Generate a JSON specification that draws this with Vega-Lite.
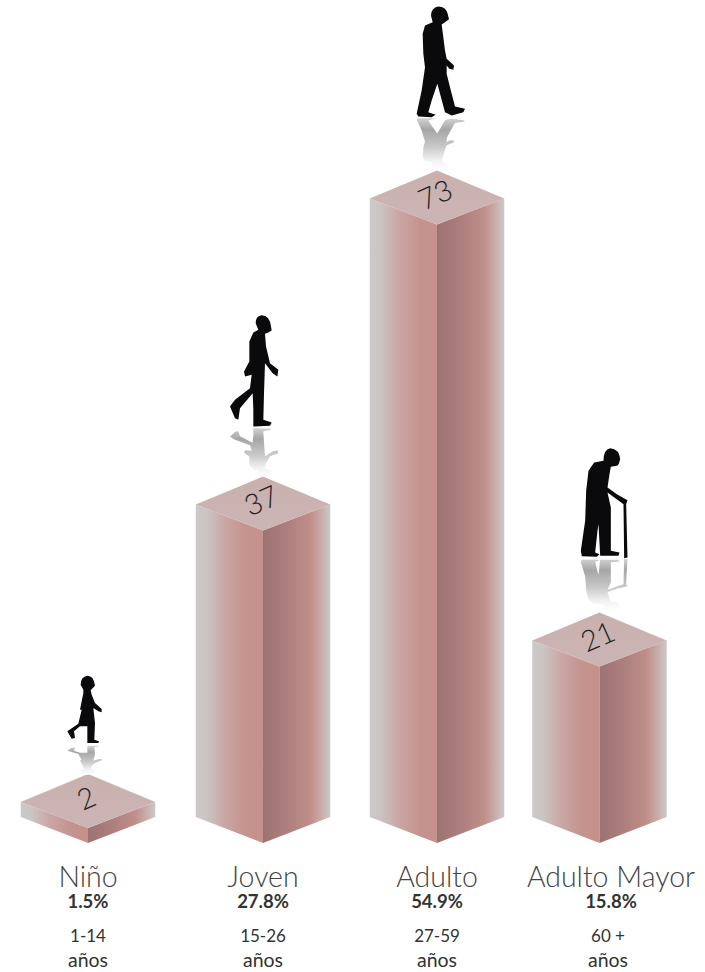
{"$schema":"https://vega.github.io/schema/vega-lite/v6.json","width":705,"height":972,"padding":0,"autosize":"none","background":"white","config":{"view":{"stroke":null}},
"resolve":{"scale":{"shape":"independent"}},
"data":{"values":[{"grupo":"Niño","valor":2,"pct":"1.5%","edad":"1-14"},{"grupo":"Joven","valor":37,"pct":"27.8%","edad":"15-26"},{"grupo":"Adulto","valor":73,"pct":"54.9%","edad":"27-59"},{"grupo":"Adulto Mayor","valor":21,"pct":"15.8%","edad":"60 +"}]},
"transform":[{"calculate":"{'Niño':88,'Joven':263,'Adulto':437,'Adulto Mayor':599.5}[datum.grupo]","as":"cx"},{"calculate":"{'Niño':88,'Joven':263,'Adulto':437,'Adulto Mayor':611}[datum.grupo]","as":"lx"},{"calculate":"{'Niño':88,'Joven':263,'Adulto':437,'Adulto Mayor':608}[datum.grupo]","as":"ax"},{"calculate":"datum.valor+6.35","as":"apex"},{"calculate":"datum.valor+3.06","as":"mid"}],
"encoding":{},
"layer":[
{"transform":[{"calculate":"[-1,0]","as":"l"},{"flatten":["l"]},{"calculate":"datum.cx+datum.l*67.25","as":"px"},{"calculate":"datum.valor-datum.l*3.06","as":"up"},{"calculate":"0.235-datum.l*3.06","as":"down"}],
"mark":{"type":"area","opacity":1,"color":{"gradient":"linear","x1":0,"x2":1,"y1":0,"y2":0,"stops":[{"offset":0,"color":"#ccc9c9"},{"offset":0.15,"color":"#cbc5c4"},{"offset":0.45,"color":"#c9a5a2"},{"offset":0.75,"color":"#c5938e"},{"offset":1,"color":"#c4918c"}]}},
"encoding":{"x":{"field":"px","type":"quantitative","scale":{"domain":[0,705],"nice":false,"zero":false},"axis":null},"y":{"field":"up","type":"quantitative","scale":{"domain":[-14.94,99.41],"nice":false,"zero":false},"axis":null},"y2":{"field":"down"},"detail":{"field":"grupo"}}},
{"transform":[{"calculate":"[0,1]","as":"l"},{"flatten":["l"]},{"calculate":"datum.cx+datum.l*67.25","as":"px"},{"calculate":"datum.valor+datum.l*3.06","as":"up"},{"calculate":"0.235+datum.l*3.06","as":"down"}],
"mark":{"type":"area","opacity":1,"color":{"gradient":"linear","x1":0,"x2":1,"y1":0,"y2":0,"stops":[{"offset":0,"color":"#9c7272"},{"offset":0.35,"color":"#ac7f7d"},{"offset":0.7,"color":"#c08e89"},{"offset":0.85,"color":"#c8aaa7"},{"offset":1,"color":"#ccc9c9"}]}},
"encoding":{"x":{"field":"px","type":"quantitative","axis":null},"y":{"field":"up","type":"quantitative","axis":null},"y2":{"field":"down"},"detail":{"field":"grupo"}}},
{"transform":[{"calculate":"[-1,0,1]","as":"l"},{"flatten":["l"]},{"calculate":"datum.cx+datum.l*67.25","as":"px"},{"calculate":"datum.mid+(1-abs(datum.l))*3.29","as":"up"},{"calculate":"datum.mid-(1-abs(datum.l))*3.06","as":"down"}],
"mark":{"type":"area","opacity":1,"color":{"gradient":"linear","x1":0,"x2":0,"y1":0,"y2":1,"stops":[{"offset":0,"color":"#c9b0af"},{"offset":1,"color":"#cbb5b4"}]}},
"encoding":{"x":{"field":"px","type":"quantitative","axis":null},"y":{"field":"up","type":"quantitative","axis":null},"y2":{"field":"down"},"detail":{"field":"grupo"}}},
{"mark":{"type":"point","filled":true,"opacity":1,"strokeWidth":0,"size":0.4444,"fill":{"gradient":"linear","x1":0,"x2":0,"y1":0,"y2":1,"stops":[{"offset":0,"color":"#d2d2d2"},{"offset":0.22,"color":"#a6a6a6"},{"offset":0.55,"color":"#c8c8c8"},{"offset":0.82,"color":"#f2f2f2"},{"offset":1,"color":"#ffffff"}]}},
"encoding":{"x":{"field":"cx","type":"quantitative","axis":null},"y":{"field":"apex","type":"quantitative","axis":null},"shape":{"field":"grupo","type":"nominal","legend":null,"scale":{"domain":["Niño","Joven","Adulto","Adulto Mayor"],"range":[
"M-2,2L14,-1L21,-11L8,-17L11,-23L21,-33L41,-41L41,-45L31,-44L16,-40L21,-59L19,-81L33,-83L31,-85L-2,-85L-2,-64L-24,-64L-42,-70L-39,-79L-49,-79L-62,-70L-29,-60L-19,-42L-24,-42L-14,-20L-14,-16L-22,-10L-19,-1Z",
"M-4,1L21,-2L24,-13L26,-18L16,-21L6,-23L9,-39L21,-61L46,-70L43,-79L29,-75L6,-61L3,-101L1,-136L26,-140L21,-144L-29,-145L-29,-123L-31,-101L-69,-121L-74,-136L-84,-134L-99,-119L-84,-110L-39,-94L-34,-77L-54,-79L-57,-72L-41,-59L-41,-33L-29,-21L-14,-17L-22,-9L-22,-2Z",
"M4,-2L24,-5L32,-12L36,-20L24,-24L14,-27L19,-45L24,-64L29,-76L51,-85L49,-91L37,-90L29,-85L29,-97L39,-116L54,-143L84,-146L79,-151L44,-156L24,-151L1,-111L-16,-134L-26,-151L-4,-155L-16,-157L-56,-157L-61,-153L-46,-120L-36,-87L-41,-69L-43,-40L-36,-29L-13,-24L-18,-15L-13,-7Z",
"M32,-6L57,-10L62,-21L52,-31L34,-32L30,-43L24,-61L52,-71L84,-79L80,-85L84,-160L74,-161L72,-85L24,-68L34,-90L34,-118L34,-151L60,-153L57,-158L2,-158L-3,-113L-6,-122L-13,-153L0,-155L-8,-159L-53,-158L-56,-151L-43,-108L-40,-66L-33,-38L-16,-26L12,-24L14,-12Z"
]}}}},
{"mark":{"type":"point","filled":true,"opacity":1,"strokeWidth":0,"size":0.4444,"color":"#0a0a0c"},
"encoding":{"x":{"field":"cx","type":"quantitative","axis":null},"y":{"field":"apex","type":"quantitative","axis":null},"shape":{"field":"grupo","type":"nominal","legend":null,"scale":{"domain":["Niño","Joven","Adulto","Adulto Mayor"],"range":[
"M-2,-295Q18,-295 21,-265L8,-251L11,-238L21,-213L41,-195L41,-185L31,-188L16,-198L21,-153L19,-103L33,-98L31,-93L-2,-93L-2,-143L-24,-143L-42,-128L-39,-108L-49,-106L-62,-128L-29,-151L-19,-193L-24,-193L-14,-243L-14,-253L-22,-268Q-22,-292 -2,-295Z",
"M-4,-484Q20,-484 24,-450L26,-438L16,-432L6,-428L9,-390L21,-340L46,-320L43,-300L29,-310L6,-340L3,-250L1,-170L26,-162L21,-152L-29,-150L-29,-200L-31,-250L-69,-205L-74,-170L-84,-175L-99,-210L-84,-230L-39,-265L-34,-305L-54,-300L-57,-315L-41,-345L-41,-405L-29,-432L-14,-440L-22,-460Q-22,-482 -4,-484Z",
"M4,-492Q26,-492 32,-470L36,-454L24,-445L14,-438L19,-400L24,-360L29,-335L51,-315L49,-302L37,-305L29,-315L29,-290L39,-250L54,-192L84,-185L79,-175L44,-165L24,-175L1,-260L-16,-210L-26,-175L-4,-167L-16,-160L-56,-162L-61,-170L-46,-240L-36,-310L-41,-350L-43,-410L-36,-435L-13,-445L-18,-465Q-18,-488 4,-492Z",
"M32,-493Q60,-490 62,-460Q58,-442 52,-440L34,-437L30,-415L24,-375L52,-355L84,-337L80,-325L84,-165L74,-163L72,-325L24,-360L34,-315L34,-255L34,-185L60,-180L57,-170L2,-170L-3,-265L-6,-245L-13,-180L0,-175L-8,-167L-53,-169L-56,-185L-43,-275L-40,-365L-33,-425L-16,-450L12,-455Q12,-490 32,-493Z"
]}}}},
{"mark":{"type":"text","font":"Lato","fontSize":29,"fontWeight":300,"color":"#222222","angle":336,"baseline":"middle","align":"center","dy":-3},
"encoding":{"x":{"field":"cx","type":"quantitative","axis":null},"y":{"field":"mid","type":"quantitative","axis":null},"text":{"field":"valor","type":"quantitative"}}},
{"mark":{"type":"text","font":"Lato","fontSize":28.5,"fontWeight":300,"color":"#444444","baseline":"alphabetic","align":"center","dy":42},
"encoding":{"x":{"field":"lx","type":"quantitative","axis":null},"y":{"datum":0,"type":"quantitative","axis":null},"text":{"field":"grupo"}}},
{"mark":{"type":"text","font":"Lato","fontSize":18.5,"fontWeight":700,"color":"#333333","baseline":"alphabetic","align":"center","dy":63},
"encoding":{"x":{"field":"lx","type":"quantitative","axis":null},"y":{"datum":0,"type":"quantitative","axis":null},"text":{"field":"pct"}}},
{"mark":{"type":"text","font":"Lato","fontSize":17,"fontWeight":400,"color":"#333333","baseline":"alphabetic","align":"center","dy":97},
"encoding":{"x":{"field":"ax","type":"quantitative","axis":null},"y":{"datum":0,"type":"quantitative","axis":null},"text":{"field":"edad"}}},
{"mark":{"type":"text","font":"Lato","fontSize":19.5,"fontWeight":400,"color":"#333333","baseline":"alphabetic","align":"center","dy":122},
"encoding":{"x":{"field":"ax","type":"quantitative","axis":null},"y":{"datum":0,"type":"quantitative","axis":null},"text":{"value":"años"}}}
]}
